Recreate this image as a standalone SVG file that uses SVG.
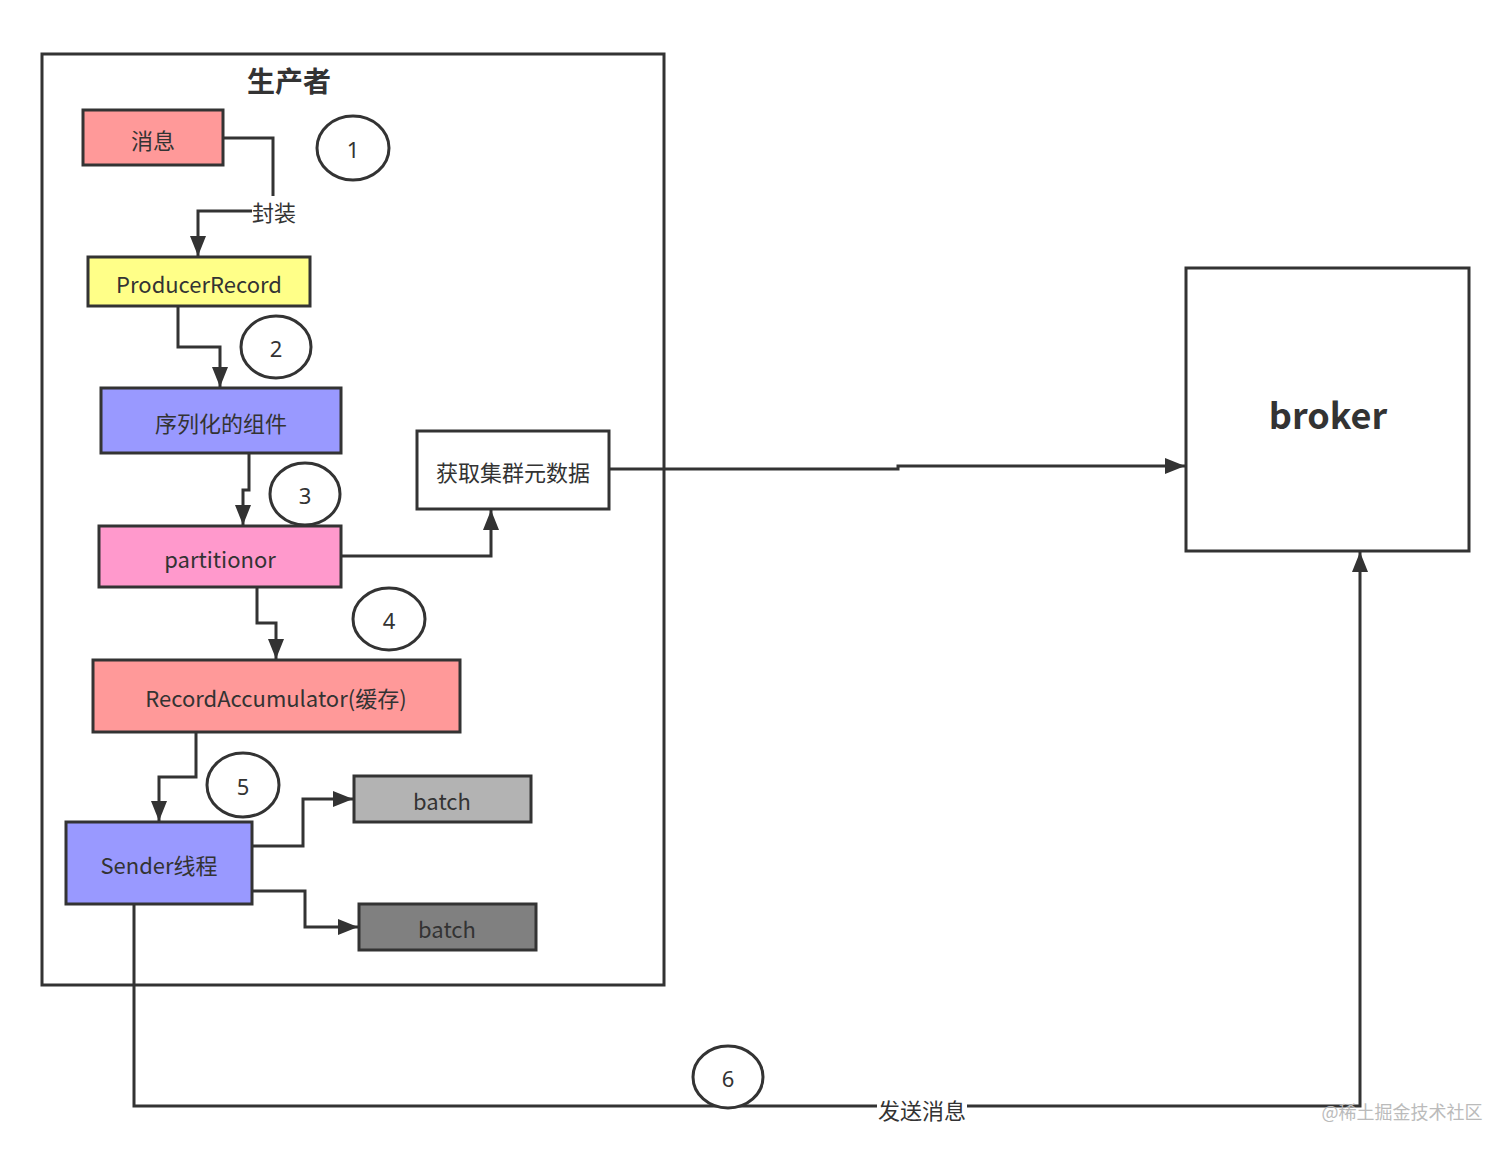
<svg xmlns="http://www.w3.org/2000/svg" width="1512" height="1151" viewBox="0 0 1512 1151">
<defs>
<marker id="arrB" viewBox="0 0 20 16" refX="20" refY="8" markerWidth="20" markerHeight="16" markerUnits="userSpaceOnUse" orient="auto">
<path d="M0,0 L20,8 L0,16 z" fill="#333"/>
</marker>
</defs>
<style>
.box{stroke:#333;stroke-width:3}
.t{font-family:"Noto Sans CJK SC","Noto Sans",sans-serif;font-size:22px;fill:#333;text-anchor:middle;dominant-baseline:central}
.n{font-family:"Noto Sans","Noto Sans CJK SC",sans-serif;font-size:22px;fill:#333;text-anchor:middle;dominant-baseline:central}
.e{fill:none;stroke:#333;stroke-width:3;marker-end:url(#arrB)}
</style>
<rect width="1512" height="1151" fill="#fff"/>
<g id="producer">
<rect x="42" y="54" width="622" height="931" fill="none" class="box"/>
<text x="289" y="80" class="t" style="font-size:28px;font-weight:bold">生产者</text>
</g>
<g id="connectors">
<polyline class="e" points="223,138 273,138 273,211 198,211 198,256"/>
<polyline class="e" points="178,306 178,347 220,347 220,387"/>
<polyline class="e" points="249,453 249,490 243,490 243,525"/>
<polyline class="e" points="341,556 491,556 491,510"/>
<polyline class="e" points="609,469 898,469 898,466 1185,466"/>
<polyline class="e" points="257,587 257,623 276,623 276,659"/>
<polyline class="e" points="196,732 196,777 159,777 159,821"/>
<polyline class="e" points="252,846 303,846 303,799 353,799"/>
<polyline class="e" points="252,891 305,891 305,927 358,927"/>
<polyline class="e" points="134,904 134,1106 1360,1106 1360,552"/>
<rect x="877" y="1096" width="90" height="26" fill="#fff"/>
<text x="922" y="1109" class="t">发送消息</text>
<rect x="252" y="196" width="44" height="30" fill="#fff"/>
<text x="274" y="211" class="t">封装</text>
</g>
<g id="n-msg"><rect x="83" y="110" width="140" height="55" fill="#FF9999" class="box"/><text x="153" y="139" class="t">消息</text></g>
<g id="n-c1"><ellipse cx="353" cy="148" rx="36" ry="32" fill="#fff" class="box"/><text x="353" y="149" class="n">1</text></g>
<g id="n-pr"><rect x="88" y="257" width="222" height="49" fill="#FFFF88" class="box"/><text x="199" y="283" class="t">ProducerRecord</text></g>
<g id="n-c2"><ellipse cx="276" cy="347" rx="35" ry="31" fill="#fff" class="box"/><text x="276" y="348" class="n">2</text></g>
<g id="n-ser"><rect x="101" y="388" width="240" height="65" fill="#9999FF" class="box"/><text x="221" y="422" class="t">序列化的组件</text></g>
<g id="n-c3"><ellipse cx="305" cy="494" rx="35" ry="31" fill="#fff" class="box"/><text x="305" y="495" class="n">3</text></g>
<g id="n-meta"><rect x="417" y="431" width="192" height="78" fill="#fff" class="box"/><text x="513" y="471" class="t">获取集群元数据</text></g>
<g id="n-part"><rect x="99" y="526" width="242" height="61" fill="#FF99CC" class="box"/><text x="220" y="558" class="t">partitionor</text></g>
<g id="n-c4"><ellipse cx="389" cy="619" rx="36" ry="31" fill="#fff" class="box"/><text x="389" y="620" class="n">4</text></g>
<g id="n-acc"><rect x="93" y="660" width="367" height="72" fill="#FF9999" class="box"/><text x="276" y="697" class="t">RecordAccumulator(缓存)</text></g>
<g id="n-c5"><ellipse cx="243" cy="785" rx="36" ry="32" fill="#fff" class="box"/><text x="243" y="786" class="n">5</text></g>
<g id="n-sender"><rect x="66" y="822" width="186" height="82" fill="#9999FF" class="box"/><text x="159" y="864" class="t">Sender线程</text></g>
<g id="n-batch1"><rect x="354" y="776" width="177" height="46" fill="#B3B3B3" class="box"/><text x="442" y="800" class="t">batch</text></g>
<g id="n-batch2"><rect x="359" y="904" width="177" height="46" fill="#808080" class="box"/><text x="447" y="928" class="t">batch</text></g>
<g id="n-broker"><rect x="1186" y="268" width="283" height="283" fill="#fff" class="box"/><text x="1328" y="413" class="t" style="font-size:36px;font-weight:bold">broker</text></g>
<g id="n-c6"><ellipse cx="728" cy="1077" rx="35" ry="31" fill="#fff" class="box"/><text x="728" y="1078" class="n">6</text></g>
<text x="1402" y="1111" class="t" style="font-size:18px;fill:#bbb">@稀土掘金技术社区</text>
</svg>
